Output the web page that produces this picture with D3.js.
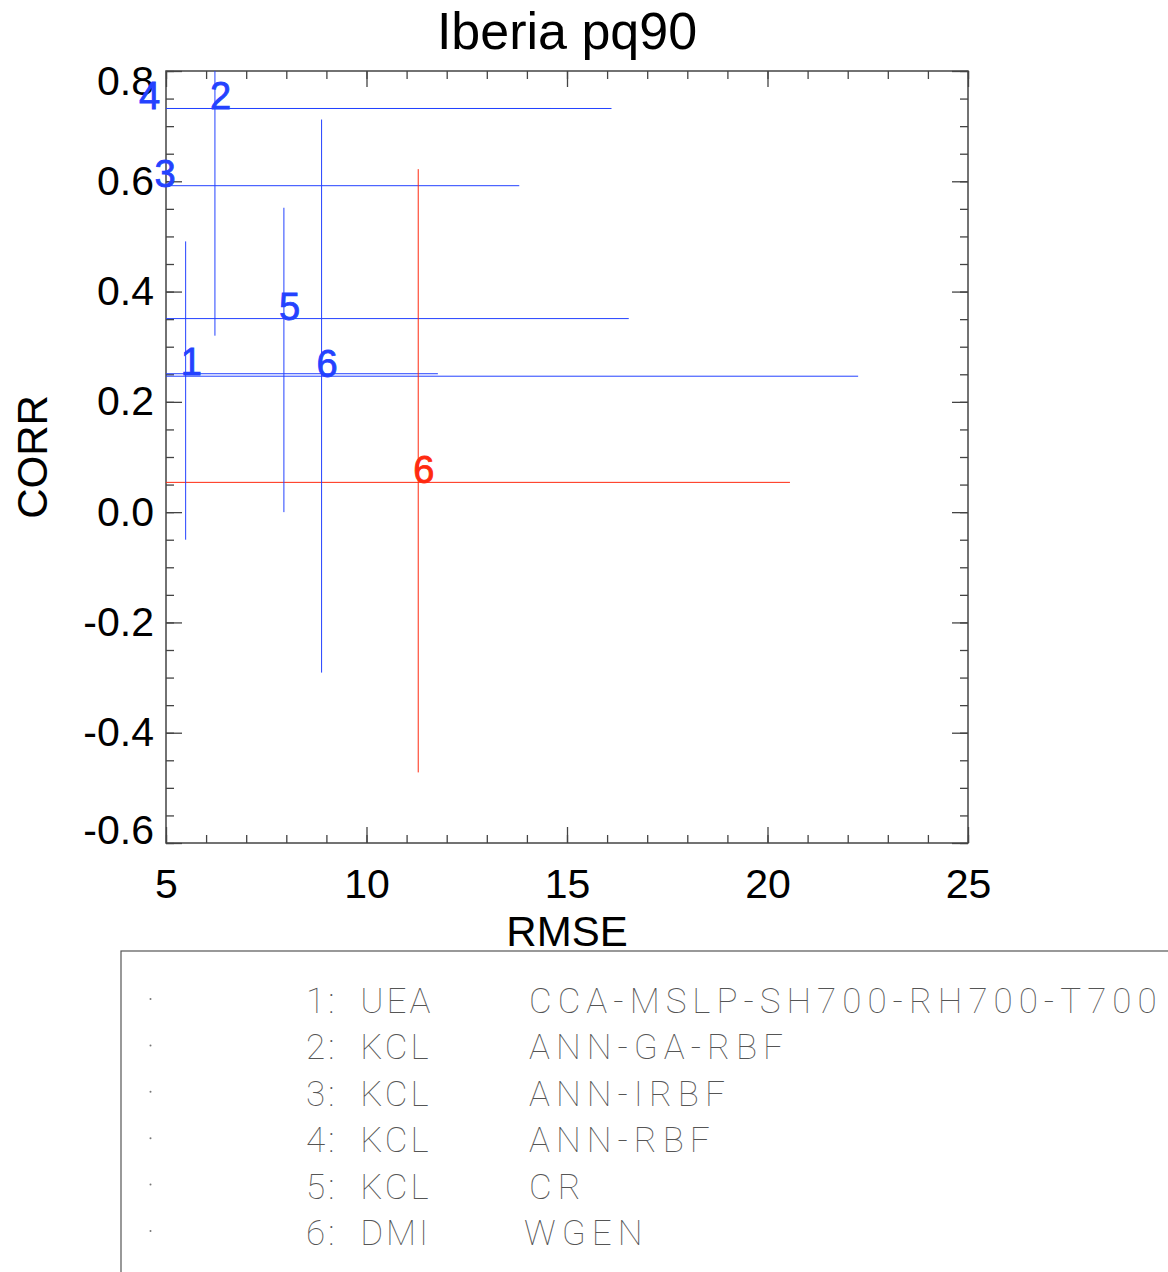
<!DOCTYPE html>
<html>
<head>
<meta charset="utf-8">
<script src="https://cdn.jsdelivr.net/npm/d3@7"></script>
<style>
  body { margin: 0; background: #fff; }
  svg { display: block; }
  .tick text { font-family: "Liberation Sans", Arial, sans-serif; font-size: 41px; fill: #000; }
  .tick line { stroke: #444; stroke-width: 1.3; }
</style>
</head>
<body>
<div id="chart"></div>
<script>
// crosses: label, set, centre (rmse, corr), rmse range end, corr range
var crossLabel = ["1", "2", "3", "4", "5", "6", "6"];
var crossSet   = ["a", "a", "a", "a", "a", "a", "b"];
var rmseMid    = [5.49, 6.22, 4.84, 4.45, 7.94, 8.88, 11.29];
var corrMid    = [0.251, 0.732, 0.592, 0.732, 0.351, 0.2465, 0.054];
var rmseHi     = [11.78, 14.6, 13.81, 16.11, 16.54, 22.26, 20.56];
// lower rmse ends all fall left of the axis
var corrLo     = [-0.050, 0.320, null, null, 0.0, -0.291, -0.472];
var corrHi     = [0.491, 0.80, null, null, 0.552, 0.712, 0.622];

var xTicks = [5, 10, 15, 20, 25];
var yTicks = [-0.6, -0.4, -0.2, 0.0, 0.2, 0.4, 0.6, 0.8];

var legendNum    = ["1", "2", "3", "4", "5", "6"];
var legendInst   = ["UEA", "KCL", "KCL", "KCL", "KCL", "DMI"];
var legendMethod = ["CCA-MSLP-SH700-RH700-T700", "ANN-GA-RBF", "ANN-IRBF", "ANN-RBF", "CR", "WGEN"];

var svgWidth = 1168;
var svgHeight = 1272;
var margin = { top: 71, left: 166 };
var width = 802;
var height = 772;

var setColor = { a: "#2442ff", b: "#ff2a10" };

var svg = d3.select("#chart")
  .append("svg")
  .attr("width", svgWidth)
  .attr("height", svgHeight);

var chartGroup = svg.append("g")
  .attr("transform", `translate(${margin.left}, ${margin.top})`);

var xScale = d3.scaleLinear().domain([5, 25]).range([0, width]);
var yScale = d3.scaleLinear().domain([-0.6, 0.8]).range([height, 0]);

var xMinor = d3.range(5, 26, 1);
var yMinor = d3.range(-12, 17).map(d => d * 0.05);

// minor ticks on all four sides
chartGroup.append("g").attr("transform", `translate(0, ${height})`)
  .call(d3.axisBottom(xScale).tickValues(xMinor).tickSize(-8).tickFormat(""));
chartGroup.append("g")
  .call(d3.axisTop(xScale).tickValues(xMinor).tickSize(-8).tickFormat(""));
chartGroup.append("g")
  .call(d3.axisLeft(yScale).tickValues(yMinor).tickSize(-8).tickFormat(""));
chartGroup.append("g").attr("transform", `translate(${width}, 0)`)
  .call(d3.axisRight(yScale).tickValues(yMinor).tickSize(-8).tickFormat(""));

// major ticks
chartGroup.append("g").attr("transform", `translate(0, ${height})`)
  .call(d3.axisBottom(xScale).tickValues(xTicks).tickSize(-16).tickPadding(26).tickFormat(d => d));
chartGroup.append("g")
  .call(d3.axisTop(xScale).tickValues(xTicks).tickSize(-16).tickFormat(""));
var yAxisG = chartGroup.append("g")
  .call(d3.axisLeft(yScale).tickValues(yTicks).tickSize(-16).tickPadding(12).tickFormat(d => d.toFixed(1)));
chartGroup.append("g").attr("transform", `translate(${width}, 0)`)
  .call(d3.axisRight(yScale).tickValues(yTicks).tickSize(-16).tickFormat(""));

chartGroup.selectAll(".domain").remove();

// end labels are nudged inside the axis range
yAxisG.selectAll(".tick text")
  .attr("dy", d => d === 0.8 ? "0.57em" : (d === -0.6 ? "0.0em" : "0.32em"));

chartGroup.append("rect")
  .attr("width", width)
  .attr("height", height)
  .attr("fill", "none")
  .attr("stroke", "#444")
  .attr("stroke-width", 1.5);

chartGroup.append("clipPath").attr("id", "plotClip")
  .append("rect").attr("width", width).attr("height", height);

var lineGroup = chartGroup.append("g").attr("clip-path", "url(#plotClip)");
var idx = d3.range(crossLabel.length);

// rmse ranges
lineGroup.selectAll(".hline")
  .data(idx)
  .enter()
  .append("line")
  .attr("x1", xScale(3))
  .attr("x2", i => xScale(rmseHi[i]))
  .attr("y1", i => yScale(corrMid[i]))
  .attr("y2", i => yScale(corrMid[i]))
  .attr("stroke", i => setColor[crossSet[i]])
  .attr("stroke-width", 1);

// corr ranges
lineGroup.selectAll(".vline")
  .data(idx.filter(i => corrLo[i] !== null))
  .enter()
  .append("line")
  .attr("x1", i => xScale(rmseMid[i]))
  .attr("x2", i => xScale(rmseMid[i]))
  .attr("y1", i => yScale(corrLo[i]))
  .attr("y2", i => yScale(corrHi[i]))
  .attr("stroke", i => setColor[crossSet[i]])
  .attr("stroke-width", 1);

chartGroup.selectAll(".crossLabel")
  .data(idx)
  .enter()
  .append("text")
  .attr("x", i => xScale(rmseMid[i]) - 5)
  .attr("y", i => yScale(corrMid[i]) + 1)
  .attr("font-family", "Liberation Sans, Arial, sans-serif")
  .attr("font-size", "38px")
  .attr("fill", i => setColor[crossSet[i]])
  .attr("stroke", i => setColor[crossSet[i]])
  .attr("stroke-width", 0.8)
  .text(i => crossLabel[i]);

// titles
svg.append("text")
  .attr("x", margin.left + width / 2)
  .attr("y", 49)
  .attr("text-anchor", "middle")
  .attr("font-family", "Liberation Sans, Arial, sans-serif")
  .attr("font-size", "52px")
  .text("Iberia pq90");

svg.append("text")
  .attr("x", margin.left + width / 2)
  .attr("y", 946)
  .attr("text-anchor", "middle")
  .attr("font-family", "Liberation Sans, Arial, sans-serif")
  .attr("font-size", "42px")
  .text("RMSE");

svg.append("text")
  .attr("transform", `translate(47, ${margin.top + height / 2}) rotate(-90)`)
  .attr("text-anchor", "middle")
  .attr("font-family", "Liberation Sans, Arial, sans-serif")
  .attr("font-size", "42px")
  .text("CORR");

// legend box
var legend = svg.append("g");
legend.append("rect")
  .attr("x", 121)
  .attr("y", 951)
  .attr("width", 1200)
  .attr("height", 500)
  .attr("fill", "none")
  .attr("stroke", "#555")
  .attr("stroke-width", 1.2);

var rows = legend.selectAll(".row")
  .data(legendNum)
  .enter()
  .append("g")
  .attr("transform", (d, i) => `translate(0, ${1013 + i * 46.4})`);

rows.append("circle")
  .attr("cx", 150.5)
  .attr("cy", -14)
  .attr("r", 1)
  .attr("fill", "#777");

rows.append("text")
  .attr("x", 306)
  .attr("font-family", "Roboto, sans-serif")
  .attr("font-weight", 100)
  .attr("font-size", "35px")
  .attr("letter-spacing", "3px")
  .attr("fill", "#555")
  .style("white-space", "pre")
  .text((d, i) => d + ":  " + legendInst[i]);

rows.append("text")
  .attr("x", (d, i) => legendInst[i] === "DMI" ? 524 : 529)
  .attr("font-family", "Roboto, sans-serif")
  .attr("font-weight", 100)
  .attr("font-size", "35px")
  .attr("letter-spacing", "6px")
  .attr("fill", "#555")
  .text((d, i) => legendMethod[i]);
</script>
</body>
</html>
